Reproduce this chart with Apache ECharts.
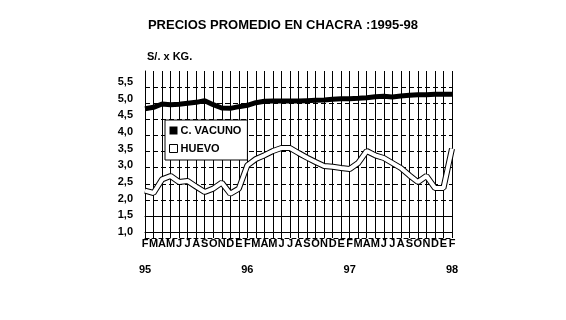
<!DOCTYPE html>
<html><head><meta charset="utf-8">
<script src="https://cdn.jsdelivr.net/npm/echarts@6/dist/echarts.min.js"></script>
<style>html,body{margin:0;padding:0;background:#fff}#c{width:566px;height:320px}</style>
</head><body><div id="c"></div>
<script>
const monthLabels = ['F','M','A','M','J','J','A','S','O','N','D','E',
                     'F','M','A','M','J','J','A','S','O','N','D','E',
                     'F','M','A','M','J','J','A','S','O','N','D','E','F'];
const yearLabels = {0:'95', 12:'96', 24:'97', 36:'98'};
const categories = monthLabels.map((m,i)=>m+i);
const vacuno = [4.70,4.74,4.84,4.82,4.83,4.86,4.89,4.94,4.82,4.72,4.71,4.76,4.80,4.88,4.92,4.93,4.93,4.93,4.93,4.94,4.95,4.96,4.98,5.00,5.00,5.01,5.03,5.06,5.07,5.05,5.08,5.10,5.12,5.12,5.13,5.13,5.13];
const huevo = [2.24,2.17,2.58,2.68,2.50,2.53,2.36,2.20,2.30,2.48,2.15,2.30,3.00,3.19,3.30,3.43,3.52,3.52,3.37,3.23,3.10,2.98,2.96,2.92,2.89,3.07,3.43,3.30,3.22,3.07,2.92,2.70,2.50,2.68,2.32,2.32,3.50];
const yTicks = {min:1, max:5.5, interval:0.5};

const FONT = "'Liberation Sans', Arial, sans-serif";
const chart = echarts.init(document.getElementById('c'), null, {renderer:'canvas'});
chart.setOption({
  animation:false,
  backgroundColor:'#fff',
  textStyle:{fontFamily:FONT},
  title:[
    {text:'PRECIOS PROMEDIO EN CHACRA :1995-98', left:'center', top:14,
     textStyle:{fontFamily:FONT, fontSize:13, fontWeight:'bold', color:'#000'}},
    {text:'S/. x KG.', left:142, top:46,
     textStyle:{fontFamily:FONT, fontSize:11, fontWeight:'bold', color:'#000'}}
  ],
  legend:{
    orient:'vertical', left:165, top:120, padding:[5,6,6,4], itemGap:7,
    itemWidth:8, itemHeight:8, backgroundColor:'#fff', borderColor:'#000', borderWidth:1,
    textStyle:{fontFamily:FONT, fontSize:11, fontWeight:'bold', color:'#000', padding:[0,0,0,-2]},
    data:[
      {name:'C. VACUNO', icon:'rect', itemStyle:{color:'#000', borderWidth:0}},
      {name:'HUEVO', icon:'rect', itemStyle:{color:'#fff', borderColor:'#000', borderWidth:1}}
    ]
  },
  grid:[
    {left:145, right:114, top:82, height:150},
    {left:145, right:114, top:71, height:145},
    {left:145, right:114, top:71, height:167}
  ],
  xAxis:[
    {gridIndex:0, type:'category', data:categories, boundaryGap:false,
     axisLine:{show:true, lineStyle:{color:'#000', width:1}}, axisTick:{show:false}, splitLine:{show:false},
     axisLabel:{interval:0, color:'#000', fontFamily:FONT, fontSize:11, fontWeight:'bold', margin:5, lineHeight:13,
       formatter:(v,i)=> monthLabels[i] + (yearLabels[i] ? '\n\n' + yearLabels[i] : '')}},
    {gridIndex:1, type:'category', data:categories, boundaryGap:false,
     axisLine:{show:true, lineStyle:{color:'#000', width:1}}, axisTick:{show:false}, axisLabel:{show:false}, splitLine:{show:false}},
    {gridIndex:2, type:'category', data:categories, boundaryGap:false,
     axisLine:{show:true, lineStyle:{color:'#000', width:1, type:[4,3]}}, axisTick:{show:false, interval:0},
     axisLabel:{show:false, interval:0},
     splitLine:{show:true, interval:0, lineStyle:{color:'#000', width:1}}}
  ],
  yAxis:[
    {gridIndex:0, type:'value', min:yTicks.min, max:yTicks.max, interval:yTicks.interval,
     axisLine:{show:false}, axisTick:{show:false}, splitLine:{show:false},
     axisLabel:{color:'#000', fontFamily:FONT, fontSize:11, fontWeight:'bold', margin:12,
       formatter:v=>v.toFixed(1).replace('.', ',')}},
    {gridIndex:1, type:'value', min:yTicks.min, max:yTicks.max, interval:yTicks.interval,
     axisLine:{show:true, lineStyle:{color:'#000', width:1, type:[3,3]}}, axisTick:{show:false}, axisLabel:{show:false},
     splitLine:{show:true, showMaxLine:false, lineStyle:{color:'#000', width:1, type:[5,3]}}},
    {gridIndex:2, type:'value', min:0, max:1, show:true,
     axisLine:{show:false}, axisTick:{show:false}, axisLabel:{show:false}, splitLine:{show:false}}
  ],
  series:[
    {name:'C. VACUNO', type:'line', xAxisIndex:0, yAxisIndex:0, data:vacuno, symbol:'none',
     lineStyle:{color:'#000', width:5}, itemStyle:{color:'#000'}, z:5},
    {name:'huevo-borde', type:'line', xAxisIndex:0, yAxisIndex:0, data:huevo, symbol:'none',
     lineStyle:{color:'#000', width:6}, z:4},
    {name:'HUEVO', type:'line', xAxisIndex:0, yAxisIndex:0, data:huevo, symbol:'none',
     lineStyle:{color:'#fff', width:4}, itemStyle:{color:'#fff'}, z:4}
  ]
});
</script></body></html>
